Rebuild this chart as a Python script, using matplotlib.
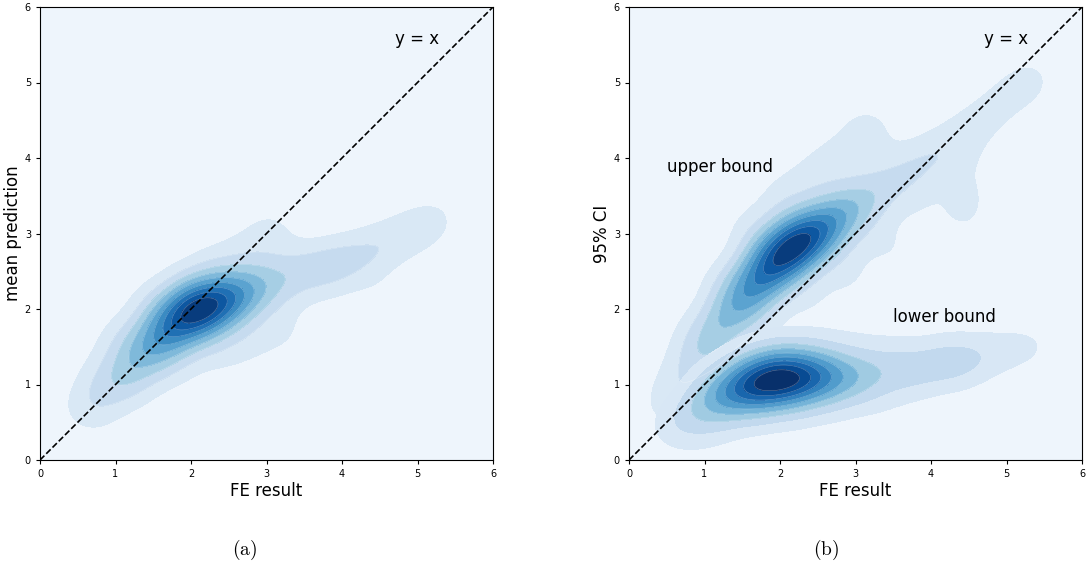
import numpy as np
import matplotlib.pyplot as plt

plt.rcParams['mathtext.fontset'] = 'cm'

# panel (a): FE result vs mean prediction, weighted sample points
a_x = [0.45, 0.60, 0.75, 0.90, 1.05, 1.20, 1.35, 1.50, 1.65, 1.80, 1.95, 2.10, 2.25, 2.40, 2.55,
       2.70, 2.85, 3.00, 3.15, 3.30, 3.45, 3.60, 3.75, 3.90, 4.05, 4.20, 4.35, 4.50, 4.65, 4.80,
       4.95, 5.10, 5.25, 5.35,
       0.7, 1.1, 1.5, 1.9, 2.3, 2.7, 3.0, 3.15, 0.9, 1.4,
       0.8, 1.3, 1.8, 2.3, 2.8, 3.3, 3.9, 2.6, 3.2,
       4.55]
a_y = [0.62, 0.72, 0.83, 0.95, 1.10, 1.25, 1.40, 1.53, 1.66, 1.80, 1.92, 1.99, 2.04, 2.10, 2.16,
       2.22, 2.28, 2.33, 2.38, 2.43, 2.48, 2.52, 2.56, 2.60, 2.64, 2.69, 2.75, 2.82, 2.89, 2.96,
       3.03, 3.10, 3.18, 3.25,
       1.20, 1.65, 2.05, 2.35, 2.60, 2.80, 3.00, 3.10, 1.65, 2.15,
       0.50, 0.90, 1.20, 1.45, 1.60, 1.75, 2.15, 1.35, 1.55,
       2.12]
a_w = [0.12, 0.16, 0.20, 0.25, 0.30, 0.37, 0.45, 0.55, 0.67, 0.82, 0.95, 1.00, 0.90, 0.75, 0.60,
       0.48, 0.38, 0.30, 0.22, 0.20, 0.21, 0.23, 0.23, 0.23, 0.22, 0.20, 0.18, 0.17, 0.16, 0.16,
       0.16, 0.15, 0.15, 0.10,
       0.12, 0.20, 0.26, 0.30, 0.30, 0.24, 0.22, 0.16, 0.10, 0.10,
       0.12, 0.20, 0.28, 0.30, 0.28, 0.22, 0.08, 0.10, 0.10,
       0.20]

# panel (b): upper bound of 95% CI
up_x = [0.35, 0.50, 0.65, 0.80, 0.95, 1.10, 1.25, 1.40, 1.55, 1.70, 1.85, 2.00, 2.15, 2.30, 2.45,
        2.60, 2.75, 2.90, 3.05, 3.20, 3.40, 3.60, 3.80, 4.00, 4.20, 4.40, 4.60, 4.80, 5.00, 5.20,
        5.35, 5.45,
        4.60, 4.50, 4.45, 4.45,
        0.8, 1.2, 1.6, 2.0, 2.4, 2.8, 3.15, 1.5, 2.0, 2.6, 3.1, 3.25,
        0.7, 1.3, 1.8, 2.4, 2.9, 3.4, 3.9, 3.0, 3.6]
up_y = [0.62, 0.82, 1.02, 1.22, 1.42, 1.62, 1.82, 2.00, 2.18, 2.36, 2.52, 2.68, 2.80, 2.90, 3.00,
        3.10, 3.20, 3.30, 3.40, 3.50, 3.62, 3.75, 3.88, 4.00, 4.12, 4.28, 4.45, 4.62, 4.80, 4.95,
        5.05, 5.10,
        3.80, 3.50, 3.30, 3.05,
        1.70, 2.40, 3.00, 3.40, 3.75, 4.05, 4.30, 3.20, 3.70, 4.00, 4.40, 4.40,
        0.65, 1.20, 1.75, 2.10, 2.50, 2.85, 3.30, 2.20, 2.70]
up_w = [0.12, 0.16, 0.21, 0.26, 0.31, 0.37, 0.44, 0.52, 0.62, 0.74, 0.86, 0.96, 1.00, 0.90, 0.75,
        0.60, 0.47, 0.38, 0.31, 0.27, 0.25, 0.24, 0.24, 0.23, 0.21, 0.20, 0.19, 0.18, 0.17, 0.16,
        0.14, 0.08,
        0.12, 0.14, 0.16, 0.10,
        0.14, 0.20, 0.24, 0.26, 0.24, 0.20, 0.18, 0.08, 0.10, 0.12, 0.14, 0.10,
        0.12, 0.16, 0.20, 0.24, 0.22, 0.20, 0.16, 0.10, 0.10]

# panel (b): lower bound of 95% CI
lo_x = [0.40, 0.55, 0.70, 0.85, 1.00, 1.15, 1.30, 1.45, 1.60, 1.75, 1.90, 2.05, 2.20, 2.35, 2.50,
        2.65, 2.80, 2.95, 3.10, 3.25, 3.45, 3.65, 3.85, 4.05, 4.25, 4.45, 4.65, 4.85, 5.05, 5.25,
        5.45, 5.55,
        1.0, 1.5, 2.0, 2.5, 3.0, 3.5, 4.2,
        0.7, 1.2, 1.7, 2.2, 2.7, 3.2, 3.8, 4.4, 1.0, 3.5]
lo_y = [0.40, 0.48, 0.56, 0.65, 0.74, 0.82, 0.88, 0.94, 0.99, 1.03, 1.06, 1.08, 1.09, 1.10, 1.10,
        1.10, 1.10, 1.11, 1.12, 1.14, 1.17, 1.20, 1.23, 1.26, 1.29, 1.33, 1.37, 1.42, 1.46, 1.50,
        1.52, 1.52,
        1.20, 1.45, 1.55, 1.60, 1.62, 1.60, 1.55,
        0.25, 0.40, 0.55, 0.60, 0.65, 0.75, 0.90, 1.05, 0.20, 0.55]
lo_w = [0.12, 0.16, 0.21, 0.27, 0.35, 0.45, 0.56, 0.68, 0.82, 0.94, 1.00, 0.97, 0.88, 0.76, 0.64,
        0.52, 0.42, 0.35, 0.30, 0.28, 0.28, 0.28, 0.28, 0.28, 0.29, 0.28, 0.24, 0.19, 0.17, 0.16,
        0.13, 0.06,
        0.16, 0.24, 0.28, 0.24, 0.18, 0.14, 0.10,
        0.12, 0.20, 0.26, 0.26, 0.20, 0.16, 0.12, 0.10, 0.08, 0.08]

grid = np.linspace(0, 6, 300)
gx, gy = np.meshgrid(grid, grid)


def kde(px, py, pw, h=0.27):
    z = np.zeros_like(gx)
    for x0, y0, w in zip(px, py, pw):
        z += w * np.exp(-((gx - x0) ** 2 + (gy - y0) ** 2) / (2 * h ** 2))
    return z


def shade(ax, z, lowest=True):
    levels = np.linspace(0, z.max(), 11)
    if not lowest:
        levels = levels[1:]
        ax.contourf(gx, gy, z, levels=levels, cmap='Blues', vmin=0, vmax=z.max() * 0.95)
    else:
        ax.contourf(gx, gy, z, levels=levels, cmap='Blues')
    # faint seams between bands
    ax.contour(gx, gy, z, levels=levels[2:-1], colors='white', linewidths=0.4, alpha=0.35)


def style(ax, ylabel):
    ax.plot([0, 6], [0, 6], 'k--', lw=1.2)
    ax.text(4.7, 5.58, 'y = x', fontsize=12, va='center')
    ax.set_xlim(0, 6)
    ax.set_ylim(0, 6)
    ax.set_xticks(range(7))
    ax.set_yticks(range(7))
    ax.tick_params(labelsize=7, length=3)
    ax.set_xlabel('FE result', fontsize=12, labelpad=2)
    ax.set_ylabel(ylabel, fontsize=12, labelpad=2)


fig = plt.figure(figsize=(10.86, 5.67), dpi=100)
ax1 = fig.add_axes([40 / 1086, 107 / 567, 453 / 1086, 453 / 567])
ax2 = fig.add_axes([629 / 1086, 107 / 567, 453 / 1086, 453 / 567])

shade(ax1, kde(a_x, a_y, a_w))
style(ax1, 'mean prediction')

shade(ax2, kde(up_x, up_y, up_w))
shade(ax2, kde(lo_x, lo_y, lo_w), lowest=False)
style(ax2, '95% CI')
ax2.text(0.5, 3.88, 'upper bound', fontsize=12, va='center')
ax2.text(3.5, 1.89, 'lower bound', fontsize=12, va='center')

fig.text(245 / 1086, 1 - 550 / 567, r'$\mathrm{(a)}$', fontsize=14, ha='center', va='center')
fig.text(826 / 1086, 1 - 550 / 567, r'$\mathrm{(b)}$', fontsize=14, ha='center', va='center')

fig.savefig('out.png', dpi=100)
